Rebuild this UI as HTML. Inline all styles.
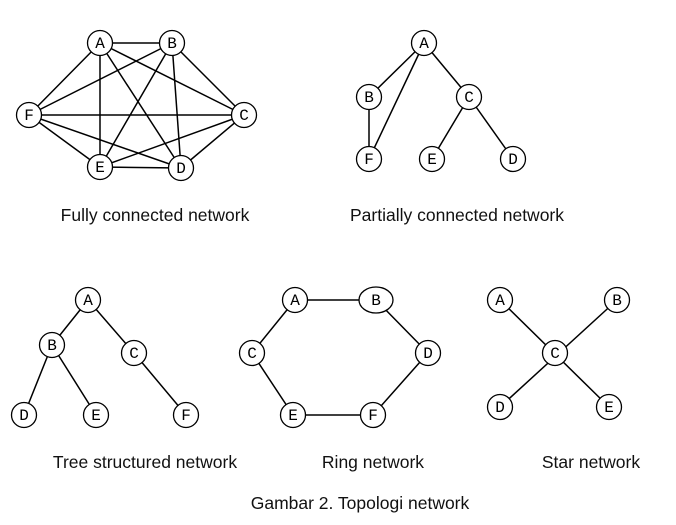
<!DOCTYPE html>
<html><head><meta charset="utf-8"><style>
html,body{margin:0;padding:0;background:#fff;}
svg{display:block}
.n{fill:#fff;stroke:#000;stroke-width:1.3}
.l{stroke:#000;stroke-width:1.5;fill:none}
.t{font-family:"Liberation Mono","Courier New",monospace;font-size:16px;text-anchor:middle}
.c{font-family:"Liberation Sans",Arial,sans-serif;font-size:17.5px;text-anchor:middle;fill:#111}
</style></head><body>
<svg width="676" height="525" viewBox="0 0 676 525" xmlns="http://www.w3.org/2000/svg">
<g class="l">
<path d="M100 43L172 43M100 43L29 115M100 43L100 167M100 43L181 168M100 43L244 115M172 43L29 115M172 43L100 167M172 43L181 168M172 43L244 115M29 115L244 115M29 115L100 167M29 115L181 168M100 167L244 115M100 167L181 168M244 115L181 168"/>
<path d="M424 43L369 97M424 43L369 159M424 43L469 97M369 97L369 159M469 97L432 159M469 97L513 159"/>
<path d="M88 300L52 345M88 300L134 353M52 345L24 415M52 345L96 415M134 353L186 415"/>
<path d="M295 300L376 300L428 353L373 415L293 415L252 353Z"/>
<path d="M500 300L609 407M617 300L500 407"/>
</g>
<g font-family="Liberation Mono, Courier New, monospace">
<circle class="n" cx="100" cy="43" r="12.5"/><text class="t" x="100" y="48">A</text>
<circle class="n" cx="172" cy="43" r="12.5"/><text class="t" x="172" y="48">B</text>
<circle class="n" cx="29" cy="115" r="12.5"/><text class="t" x="29" y="120">F</text>
<circle class="n" cx="244" cy="115" r="12.5"/><text class="t" x="244" y="120">C</text>
<circle class="n" cx="100" cy="167" r="12.5"/><text class="t" x="100" y="172">E</text>
<circle class="n" cx="181" cy="168" r="12.5"/><text class="t" x="181" y="173">D</text>

<circle class="n" cx="424" cy="43" r="12.5"/><text class="t" x="424" y="48">A</text>
<circle class="n" cx="369" cy="97" r="12.5"/><text class="t" x="369" y="102">B</text>
<circle class="n" cx="469" cy="97" r="12.5"/><text class="t" x="469" y="102">C</text>
<circle class="n" cx="369" cy="159" r="12.5"/><text class="t" x="369" y="164">F</text>
<circle class="n" cx="432" cy="159" r="12.5"/><text class="t" x="432" y="164">E</text>
<circle class="n" cx="513" cy="159" r="12.5"/><text class="t" x="513" y="164">D</text>

<circle class="n" cx="88" cy="300" r="12.5"/><text class="t" x="88" y="305">A</text>
<circle class="n" cx="52" cy="345" r="12.5"/><text class="t" x="52" y="350">B</text>
<circle class="n" cx="134" cy="353" r="12.5"/><text class="t" x="134" y="358">C</text>
<circle class="n" cx="24" cy="415" r="12.5"/><text class="t" x="24" y="420">D</text>
<circle class="n" cx="96" cy="415" r="12.5"/><text class="t" x="96" y="420">E</text>
<circle class="n" cx="186" cy="415" r="12.5"/><text class="t" x="186" y="420">F</text>

<circle class="n" cx="295" cy="300" r="12.5"/><text class="t" x="295" y="305">A</text>
<ellipse class="n" cx="376" cy="300" rx="17" ry="13"/><text class="t" x="376" y="305">B</text>
<circle class="n" cx="252" cy="353" r="12.5"/><text class="t" x="252" y="358">C</text>
<circle class="n" cx="428" cy="353" r="12.5"/><text class="t" x="428" y="358">D</text>
<circle class="n" cx="293" cy="415" r="12.5"/><text class="t" x="293" y="420">E</text>
<circle class="n" cx="373" cy="415" r="12.5"/><text class="t" x="373" y="420">F</text>

<circle class="n" cx="500" cy="300" r="12.5"/><text class="t" x="500" y="305">A</text>
<circle class="n" cx="617" cy="300" r="12.5"/><text class="t" x="617" y="305">B</text>
<circle class="n" cx="555" cy="353" r="12.5"/><text class="t" x="555" y="358">C</text>
<circle class="n" cx="500" cy="407" r="12.5"/><text class="t" x="500" y="412">D</text>
<circle class="n" cx="609" cy="407" r="12.5"/><text class="t" x="609" y="412">E</text>
</g>
<text class="c" x="155" y="221">Fully connected network</text>
<text class="c" x="457" y="221">Partially connected network</text>
<text class="c" x="145" y="468">Tree structured network</text>
<text class="c" x="373" y="468">Ring network</text>
<text class="c" x="591" y="468">Star network</text>
<text class="c" x="360" y="509">Gambar 2. Topologi network</text>
</svg>
</body></html>
